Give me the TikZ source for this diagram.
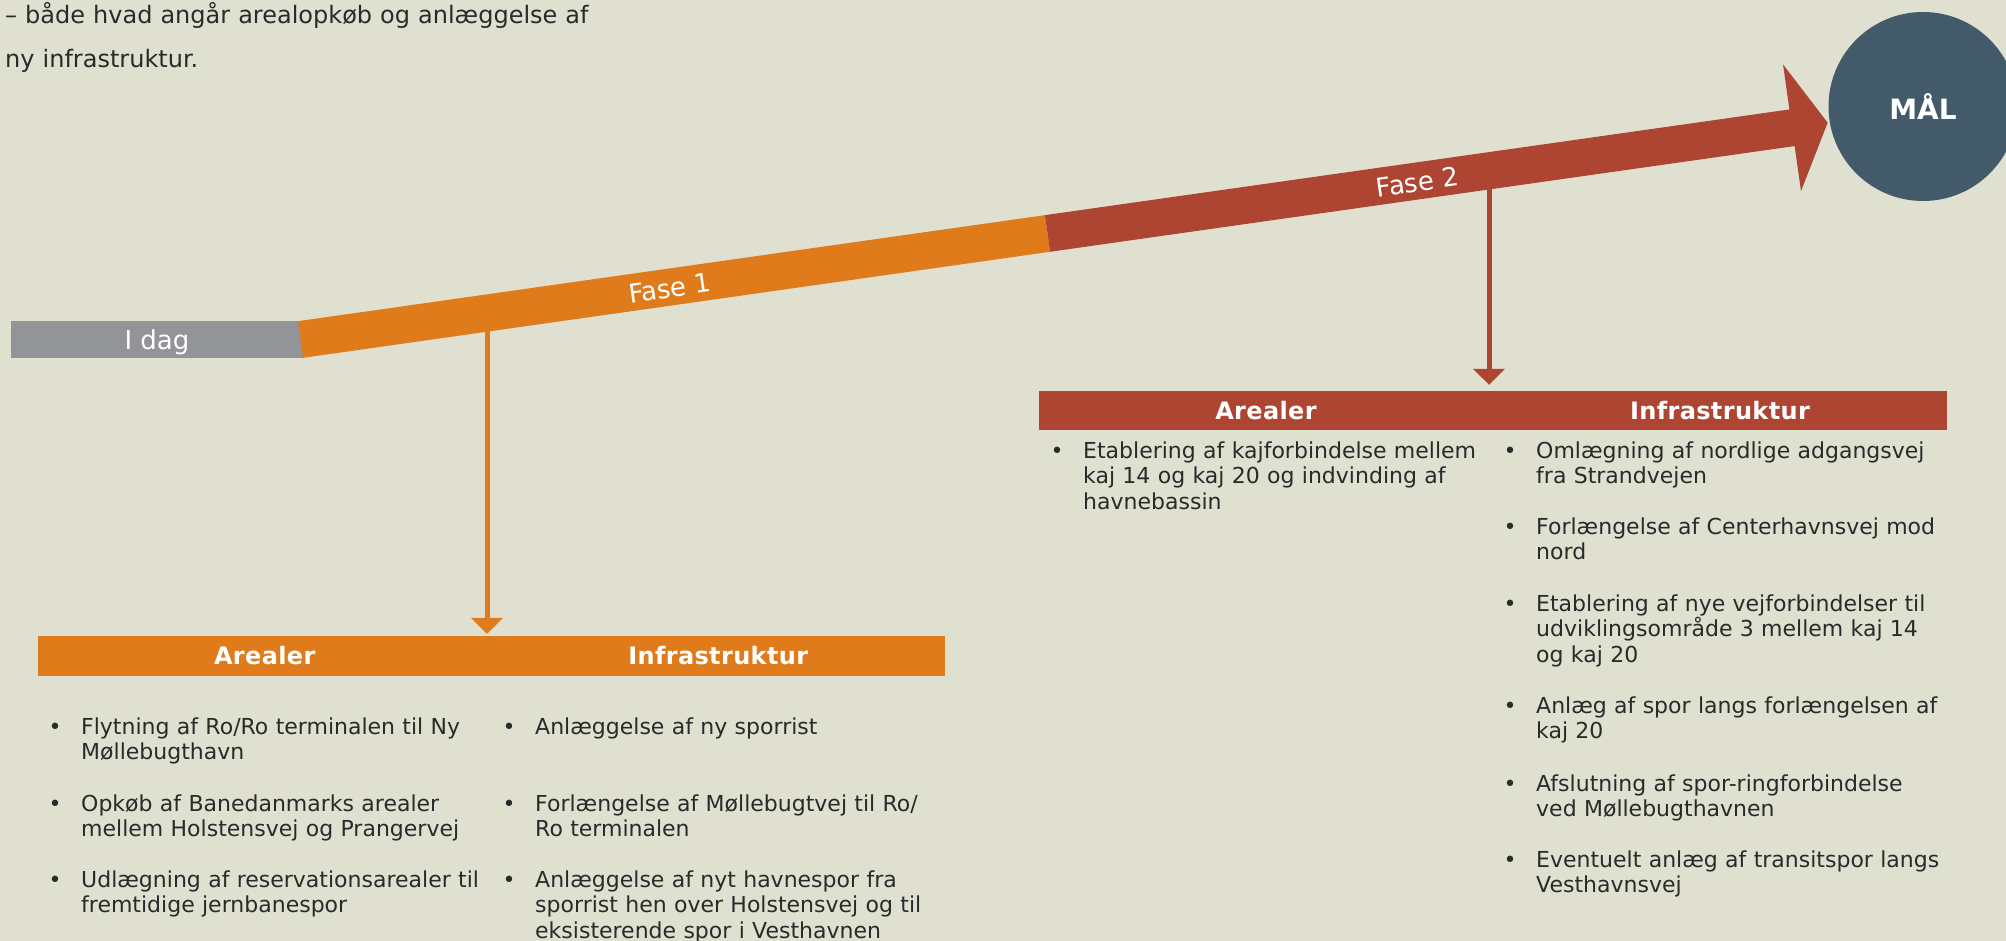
\documentclass[tikz,border=0pt]{standalone}
\usepackage{fontspec}
\setmainfont{DejaVu Sans}
\usepackage{tikz}
\usetikzlibrary{arrows.meta,positioning}
\definecolor{paper}{HTML}{DFE0D0}
\definecolor{phaseone}{HTML}{E07B1C}
\definecolor{phasetwo}{HTML}{AE4533}
\definecolor{today}{HTML}{939498}
\definecolor{goal}{HTML}{435A6B}
\definecolor{ink}{HTML}{2A2A2A}
\tikzset{
  phaselabel/.style={text=white, font=\fontsize{26}{30}\selectfont, rotate=8.08, inner sep=0},
  header/.style={minimum width=908pt, minimum height=40pt, inner sep=0},
  headtext/.style={text=white, font=\fontsize{24}{28}\selectfont\bfseries\addfontfeature{LetterSpace=1.5}, inner sep=0},
  itemtext/.style={text=ink, font=\fontsize{22}{25.5}\selectfont, align=left, text width=430pt, anchor=base west, inner sep=0},
  bullet/.style={text=ink, font=\fontsize{22}{25.5}\selectfont, anchor=base west, inner sep=0},
  drop/.style={line width=5pt, -{Triangle[width=31pt,length=16pt]}}
}

\begin{document}
\begin{tikzpicture}[x=1pt,y=-1pt]
% Page
\useasboundingbox (0,0) rectangle (2006,941);
\fill[paper] (0,0) rectangle (2006,941);
% Intro text
\node[text=ink, font=\fontsize{24}{44}\selectfont, align=left, text width=700pt, anchor=base west, inner sep=0] (intro) at (5,24)
  {– både hvad angår arealopkøb og anlæggelse af\\ny infrastruktur.};
% Headers
\node[header, fill=phaseone, minimum width=907pt] (hdr1) at (491.5,656) {};
\node[headtext] (hdr1a) at (264.75,656) {Arealer};
\node[headtext] (hdr1b) at (718.25,656) {Infrastruktur};
\node[header, fill=phasetwo, minimum height=39pt] (hdr2) at (1493,410.5) {};
\node[headtext] (hdr2a) at (1266,410.5) {Arealer};
\node[headtext] (hdr2b) at (1720,410.5) {Infrastruktur};
% Drop arrows
\coordinate (drop1) at (487,322);
\coordinate (drop2) at (1489,176);
\draw[drop, phaseone, shorten >=2pt] (drop1) -- (drop1 |- hdr1.north);
\draw[drop, phasetwo, shorten >=6pt] (drop2) -- (drop2 |- hdr2.north);
% Today
\node[fill=today, minimum width=292pt, minimum height=36.6pt, inner sep=0, text=white, text depth=0pt,
  font=\fontsize{26}{30}\selectfont] (idag) at (157,339.5) {I dag};
% Phase band
\begin{scope}[shift={(300.5,339.5)}, rotate=8.08]
  \fill[phaseone] (0,-18.5) -- (754.5,-18.5) -- (754.5,18.5) -- (0,18.5) -- cycle;
  \fill[phasetwo] (754.5,-18.5) -- (1506.5,-18.5) -- (1506.5,-64) -- (1542.5,0)
    -- (1506.5,64) -- (1506.5,18.5) -- (754.5,18.5) -- cycle;
  \node[phaselabel] (fase1) at (373,1) {Fase 1};
  \node[phaselabel] (fase2) at (1128,1) {Fase 2};
\end{scope}
% Goal
\node[circle, fill=goal, minimum size=189pt, inner sep=0, text=white, font=\fontsize{28}{32}\selectfont\bfseries] (maal) at (1923,106.5) {MÅL};
% Phase 1 items
\foreach \y/\txt [count=\i] in {
  734/{Flytning af Ro/Ro terminalen til Ny\\Møllebugthavn},
  811/{Opkøb af Banedanmarks arealer\\mellem Holstensvej og Prangervej},
  887/{Udlægning af reservationsarealer til\\fremtidige jernbanespor}
} {
  \node[bullet] (p1ab\i) at (48.5,\y) {•};
  \node[itemtext] (p1a\i) at (81,\y) {\txt};
}
\foreach \y/\txt [count=\i] in {
  734/{Anlæggelse af ny sporrist},
  811/{Forlængelse af Møllebugtvej til Ro/\\Ro terminalen},
  887/{Anlæggelse af nyt havnespor fra\\sporrist hen over Holstensvej og til\\eksisterende spor i Vesthavnen}
} {
  \node[bullet] (p1bb\i) at (502.5,\y) {•};
  \node[itemtext] (p1b\i) at (535,\y) {\txt};
}
% Phase 2 items
\node[bullet] (p2ab1) at (1050.5,458) {•};
\node[itemtext] (p2a1) at (1083,458) {Etablering af kajforbindelse mellem\\kaj 14 og kaj 20 og indvinding af\\havnebassin};
\foreach \y/\txt [count=\i] in {
  458/{Omlægning af nordlige adgangsvej\\fra Strandvejen},
  534/{Forlængelse af Centerhavnsvej mod\\nord},
  611/{Etablering af nye vejforbindelser til\\udviklingsområde 3 mellem kaj 14\\og kaj 20},
  713/{Anlæg af spor langs forlængelsen af\\kaj 20},
  791/{Afslutning af spor-ringforbindelse\\ved Møllebugthavnen},
  867/{Eventuelt anlæg af transitspor langs\\Vesthavnsvej}
} {
  \node[bullet] (p2bb\i) at (1503.5,\y) {•};
  \node[itemtext] (p2b\i) at (1536,\y) {\txt};
}
\end{tikzpicture}
\end{document}
